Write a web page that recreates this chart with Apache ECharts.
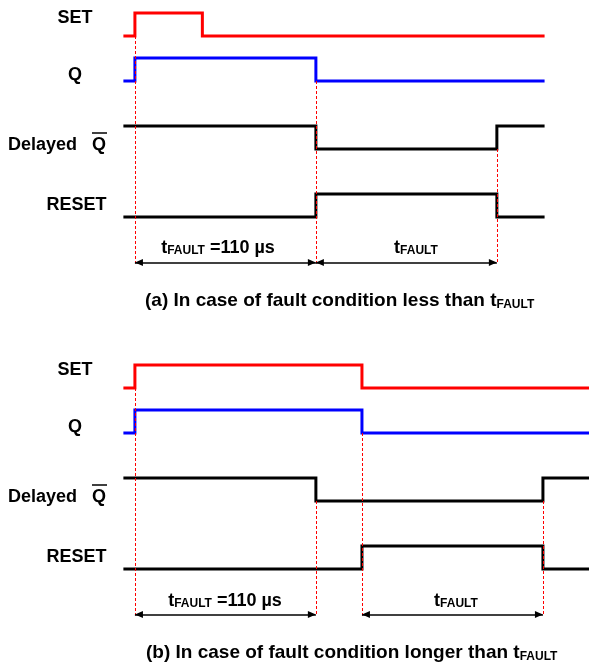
<!DOCTYPE html>
<html><head><meta charset="utf-8">
<script src="https://cdn.jsdelivr.net/npm/echarts@6/dist/echarts.min.js"></script>
<style>html,body{margin:0;padding:0;background:#fff}#c{width:589px;height:666px}</style>
</head><body><div id="c"></div>
<script>
// ---- data (time in µs, t = 0 at SET rising edge) ----
const signalNames = ['SET', 'Q', 'Delayed', 'RESET'];
const initialLevels = [0, 0, 1, 0];
const startTime = -7;
const endTimeA = 249;
const endTimeB = 276;
const tFault = 110;
// panel (a): fault shorter than tFAULT
const setEdgesA = [0, 41];
const qEdgesA = [0, 110];
const dqEdgesA = [110, 220];
const resetEdgesA = [110, 220];
const markerTimesA = [0, 110, 220];
const markerFromLaneA = [0, 1, 2];
const arrowSpansA = [[0, 110], [110, 220]];
// panel (b): fault longer than tFAULT
const setEdgesB = [0, 138];
const qEdgesB = [0, 138];
const dqEdgesB = [110, 248];
const resetEdgesB = [138, 248];
const markerTimesB = [0, 110, 138, 248];
const markerFromLaneB = [0, 2, 1, 2];
const arrowSpansB = [[0, 110], [138, 248]];
// text
const captionA = '(a) In case of fault condition less than t';
const captionB = '(b) In case of fault condition longer than t';
const subText = 'FAULT';
const durationText = ' =110 µs';

// ---- layout ----
const FONT = '"Liberation Sans", Arial, sans-serif';
const laneBase = [36, 81, 149, 217]; // y (px units inside panel) of low level
const amp = 23;
const arrowY = 262.5;
const colors = ['#ff0000', '#0000ff', '#000000', '#000000'];
const panelTops = [0, 352];

function stepData(edges, init, t0, t1, lane) {
  const lv = l => laneBase[lane] - l * amp;
  const pts = [[t0, lv(init)]];
  let l = init;
  edges.forEach(e => { l = 1 - l; pts.push([e, lv(l)]); });
  pts.push([t1, lv(l)]);
  return pts;
}

const chart = echarts.init(document.getElementById('c'), null, {renderer: 'canvas'});
const grids = [], xAxes = [], yAxes = [], series = [];
const panels = [
  {edges: [setEdgesA, qEdgesA, dqEdgesA, resetEdgesA], end: endTimeA, markers: markerTimesA, from: markerFromLaneA, arrows: arrowSpansA},
  {edges: [setEdgesB, qEdgesB, dqEdgesB, resetEdgesB], end: endTimeB, markers: markerTimesB, from: markerFromLaneB, arrows: arrowSpansB}
];
panels.forEach((p, pi) => {
  grids.push({left: 0, right: 0, top: panelTops[pi], height: 270, containLabel: false});
  xAxes.push({type: 'value', gridIndex: pi, min: -82, max: 276, show: false});
  yAxes.push({type: 'value', gridIndex: pi, min: 0, max: 270, inverse: true, show: false});
  p.edges.forEach((ed, si) => {
    series.push({
      type: 'line', name: signalNames[si], xAxisIndex: pi, yAxisIndex: pi,
      data: stepData(ed, initialLevels[si], startTime, p.end, si),
      step: 'end', showSymbol: false, symbol: 'none', animation: false, silent: true,
      lineStyle: {color: colors[si], width: 3, join: 'miter', cap: 'butt'},
      z: 3
    });
  });
  series.push({
    type: 'line', xAxisIndex: pi, yAxisIndex: pi, data: [], animation: false, silent: true,
    markLine: {
      silent: true, animation: false, symbol: ['none', 'none'], label: {show: false},
      lineStyle: {color: '#ff0000', width: 1, type: [3, 2]},
      data: p.markers.map((t, i) => [{coord: [t, laneBase[p.from[i]]]}, {coord: [t, arrowY + 1]}])
    },
    z: 2
  });
  series.push({
    type: 'line', xAxisIndex: pi, yAxisIndex: pi, data: [], animation: false, silent: true,
    markLine: {
      silent: true, animation: false, symbol: ['triangle', 'triangle'], symbolSize: [7, 8],
      symbolOffset: [[0, 4], [0, 4]],
      label: {show: false},
      lineStyle: {color: '#000', width: 1.5, type: 'solid'},
      itemStyle: {color: '#000'},
      data: p.arrows.map(s => [{coord: [s[0], arrowY]}, {coord: [s[1], arrowY]}])
    },
    z: 4
  });
});

const richSub = {
  t: {fontSize: 18, fontWeight: 'bold', fontFamily: FONT, fill: '#000', verticalAlign: 'bottom', lineHeight: 18},
  c: {fontSize: 19, fontWeight: 'bold', fontFamily: FONT, fill: '#000', verticalAlign: 'bottom', lineHeight: 19},
  s: {fontSize: 12, fontWeight: 'bold', fontFamily: FONT, fill: '#000', verticalAlign: 'bottom', lineHeight: 10}
};
function txt(x, y, text, align, size) {
  return {type: 'text', x: x, y: y, silent: true,
    style: {text: text, fontSize: size || 18, fontWeight: 'bold', fontFamily: FONT, fill: '#000',
      align: align || 'center', verticalAlign: 'middle'}};
}
function richTxt(x, y, text, align) {
  return {type: 'text', x: x, y: y, silent: true,
    style: {text: text, rich: richSub, align: align || 'center', verticalAlign: 'middle',
      fontFamily: FONT, fontWeight: 'bold', fontSize: 18, fill: '#000'}};
}
const graphics = [];
panelTops.forEach((top, pi) => {
  graphics.push(txt(75, top + 18, signalNames[0]));
  graphics.push(txt(75, top + 75, signalNames[1]));
  graphics.push(txt(8, top + 145, signalNames[2], 'left'));
  graphics.push(txt(92, top + 145, 'Q', 'left'));
  graphics.push({type: 'line', silent: true, shape: {x1: 92, y1: top + 133, x2: 107, y2: top + 133},
    style: {stroke: '#000', lineWidth: 1.5}});
  graphics.push(txt(76.5, top + 205, signalNames[3]));
});
// duration labels
graphics.push(richTxt(218, 248, '{t|t}{s|' + subText + '}{t|' + durationText + '}'));
graphics.push(richTxt(416, 248, '{t|t}{s|' + subText + '}'));
graphics.push(richTxt(225, 601, '{t|t}{s|' + subText + '}{t|' + durationText + '}'));
graphics.push(richTxt(456, 601, '{t|t}{s|' + subText + '}'));
// captions
graphics.push(richTxt(145, 301, '{c|' + captionA + '}{s|' + subText + '}', 'left'));
graphics.push(richTxt(146, 653, '{c|' + captionB + '}{s|' + subText + '}', 'left'));

chart.setOption({
  backgroundColor: '#ffffff',
  animation: false,
  grid: grids, xAxis: xAxes, yAxis: yAxes, series: series,
  graphic: graphics
});
</script></body></html>
